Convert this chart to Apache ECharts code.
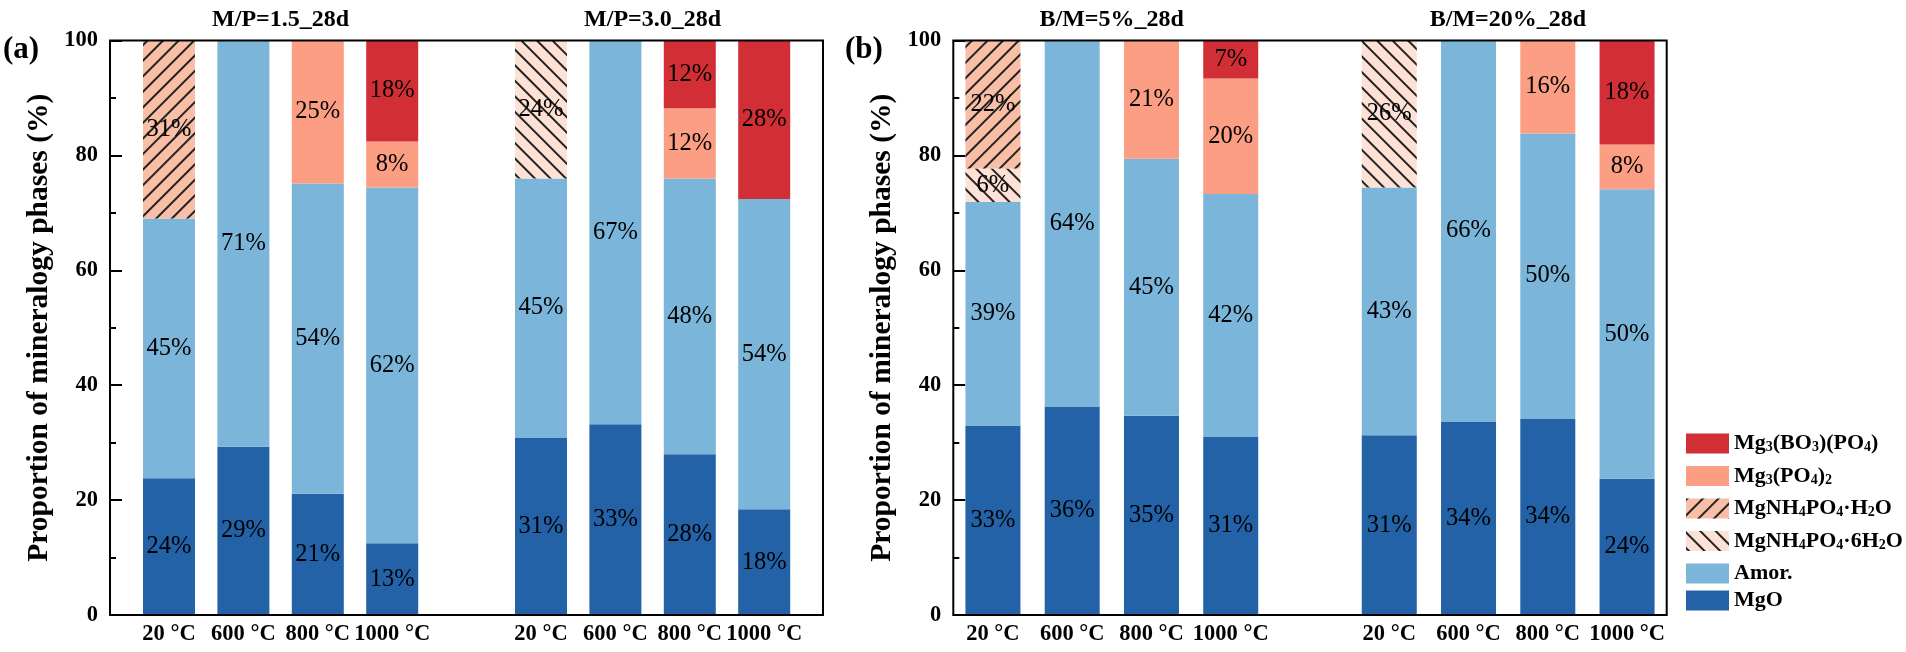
<!DOCTYPE html>
<html>
<head>
<meta charset="utf-8">
<script src="https://cdn.jsdelivr.net/npm/echarts@6/dist/echarts.min.js"></script>
<style>
html,body{margin:0;padding:0;background:#fff;}
#chart{width:1906px;height:652px;}
</style>
</head>
<body>
<div id="chart"></div>
<script>
const categories = ['20 °C', '600 °C', '800 °C', '1000 °C', '', '20 °C', '600 °C', '800 °C', '1000 °C'];
const groupTitles = ['M/P=1.5_28d', 'M/P=3.0_28d', 'B/M=5%_28d', 'B/M=20%_28d'];
const panelLabels = ['(a)', '(b)'];
const yTicks = [0, 20, 40, 60, 80, 100];
const seriesNames = ['MgO', 'Amor.', 'MgNH₄PO₄·6H₂O', 'MgNH₄PO₄·H₂O', 'Mg₃(PO₄)₂', 'Mg₃(BO₃)(PO₄)'];

// Panel (a)
const aMgO  = [23.8, 29.3, 21.1, 12.5, null, 30.9, 33.2, 28.0, 18.4];
const aAmor = [45.2, 70.7, 54.0, 61.9, null, 45.1, 66.8, 48.0, 54.0];
const aMAP6 = [null, null, null, null, null, 24.0, null, null, null];
const aMAP1 = [31.0, null, null, null, null, null, null, null, null];
const aMP   = [null, null, 24.9, 8.0, null, null, null, 12.2, null];
const aMBP  = [null, null, null, 17.6, null, null, null, 11.8, 27.6];

// Panel (b)
const bMgO  = [33.0, 36.3, 34.7, 31.0, null, 31.3, 33.7, 34.2, 23.7];
const bAmor = [38.9, 63.7, 44.7, 42.3, null, 43.1, 66.3, 49.6, 50.4];
const bMAP6 = [5.8, null, null, null, null, 25.6, null, null, null];
const bMAP1 = [22.3, null, null, null, null, null, null, null, null];
const bMP   = [null, null, 20.6, 20.1, null, null, null, 16.2, 7.8];
const bMBP  = [null, null, null, 6.6, null, null, null, null, 18.1];

const FONT = 'Liberation Serif';
const colors = {
  'MgO': '#2362A6',
  'Amor.': '#7BB5D9',
  'MgNH₄PO₄·6H₂O': '#FEE1D5',
  'MgNH₄PO₄·H₂O': '#F9BFA6',
  'Mg₃(PO₄)₂': '#FB9E83',
  'Mg₃(BO₃)(PO₄)': '#D12F35'
};
const decals = {
  'MgNH₄PO₄·H₂O': { symbol: 'rect', symbolSize: 1, dashArrayX: [1, 0], dashArrayY: [1.2, 8.6], rotation: -Math.PI / 4, color: '#222' },
  'MgNH₄PO₄·6H₂O': { symbol: 'rect', symbolSize: 1, dashArrayX: [1, 0], dashArrayY: [1.2, 8.6], rotation: Math.PI / 4, color: '#222' }
};
const legendRich = {
  'Mg₃(BO₃)(PO₄)': '{m|Mg}{s|3}{m|(BO}{s|3}{m|)(PO}{s|4}{m|)}',
  'Mg₃(PO₄)₂': '{m|Mg}{s|3}{m|(PO}{s|4}{m|)}{s|2}',
  'MgNH₄PO₄·H₂O': '{m|MgNH}{s|4}{m|PO}{s|4}{m|·H}{s|2}{m|O}',
  'MgNH₄PO₄·6H₂O': '{m|MgNH}{s|4}{m|PO}{s|4}{m|·6H}{s|2}{m|O}',
  'Amor.': '{m|Amor.}',
  'MgO': '{m|MgO}'
};

const panelA = [aMgO, aAmor, aMAP6, aMAP1, aMP, aMBP];
const panelB = [bMgO, bAmor, bMAP6, bMAP1, bMP, bMBP];

const chart = echarts.init(document.getElementById('chart'), null, { renderer: 'canvas' });

const TOP = 40.5, H = 574.5;
const grids = [
  { left: 110, top: TOP, width: 713, height: H, show: true, borderColor: '#000', borderWidth: 2, backgroundColor: 'transparent', z: 10 },
  { left: 131.8, top: TOP, width: 669.6, height: H },
  { left: 953.3, top: TOP, width: 713.4, height: H, show: true, borderColor: '#000', borderWidth: 2, backgroundColor: 'transparent', z: 10 },
  { left: 953.3, top: TOP, width: 713.4, height: H }
];

function frameY(gi) {
  return {
    gridIndex: gi, type: 'value', min: yTicks[0], max: yTicks[yTicks.length - 1], interval: yTicks[1] - yTicks[0],
    axisLine: { show: false },
    axisTick: { show: true, inside: true, length: 12, lineStyle: { color: '#000', width: 2 } },
    minorTick: { show: true, splitNumber: 2, length: 6, lineStyle: { color: '#000', width: 2 } },
    splitLine: { show: false },
    axisLabel: { fontFamily: FONT, fontSize: 22.5, fontWeight: 'bold', color: '#000', margin: 12 },
    name: 'Proportion of mineralogy phases (%)',
    nameLocation: 'middle', nameRotate: 90, nameGap: 56,
    nameTextStyle: { fontFamily: FONT, fontSize: 29.5, fontWeight: 'bold', color: '#000' }
  };
}
function barX(gi) {
  return {
    gridIndex: gi, type: 'category', data: categories,
    axisLine: { show: false }, axisTick: { show: false },
    axisLabel: { interval: 0, fontFamily: FONT, fontSize: 22.5, fontWeight: 'bold', color: '#000', margin: 8 }
  };
}
const xAxis = [
  { gridIndex: 0, type: 'value', show: false, min: 0, max: 1 },
  barX(1),
  { gridIndex: 2, type: 'value', show: false, min: 0, max: 1 },
  barX(3)
];
const yAxis = [
  frameY(0),
  { gridIndex: 1, type: 'value', min: 0, max: 100, show: false },
  frameY(2),
  { gridIndex: 3, type: 'value', min: 0, max: 100, show: false }
];

const series = [];
function addPanel(arrs, stack, axisIdx, bw) {
  seriesNames.forEach((name, i) => {
    series.push({
      type: 'bar', name: name, data: arrs[i], stack: stack,
      xAxisIndex: axisIdx, yAxisIndex: axisIdx, barWidth: bw,
      itemStyle: Object.assign({ color: colors[name] }, decals[name] ? { decal: decals[name] } : {}),
      label: {
        show: true, position: 'inside', color: '#000', fontFamily: FONT, fontWeight: 'normal', fontSize: 24.5,
        formatter: p => (p.value == null ? '' : Math.round(p.value) + '%')
      },
      emphasis: { disabled: true }
    });
  });
}
addPanel(panelA, 'a', 1, 52);
addPanel(panelB, 'b', 3, 55);

const legendText = {
  fontFamily: FONT, fontSize: 22, fontWeight: 'bold', color: '#000', lineHeight: 22,
  rich: {
    m: { fontFamily: FONT, fontSize: 22, fontWeight: 'bold', color: '#000', lineHeight: 22 },
    s: { fontFamily: FONT, fontSize: 14, fontWeight: 'bold', color: '#000', lineHeight: 4, verticalAlign: 'bottom' }
  }
};
const legends = [
  { data: ['Mg₃(BO₃)(PO₄)', 'Mg₃(PO₄)₂', 'MgNH₄PO₄·H₂O', 'MgNH₄PO₄·6H₂O', 'Amor.'], top: 432.5 },
  { data: ['MgO'], top: 589.5 }
].map(l => ({
  data: l.data, orient: 'vertical', left: 1686, top: l.top, itemWidth: 43, itemHeight: 20, itemGap: 10.5,
  icon: 'rect', selectedMode: false, padding: 0, textStyle: legendText,
  formatter: n => legendRich[n]
}));

const titleCenters = [280.6, 652.6, 1111.7, 1507.9];
const graphic = groupTitles.map((t, i) => ({
  type: 'text', x: titleCenters[i], y: 20, z: 20,
  style: { text: t, fontFamily: FONT, fontSize: 24, fontWeight: 'bold', fill: '#000', textAlign: 'center', textVerticalAlign: 'middle' }
})).concat(panelLabels.map((t, i) => ({
  type: 'text', x: [3, 845][i], y: 50, z: 20,
  style: { text: t, fontFamily: FONT, fontSize: 31, fontWeight: 'bold', fill: '#000', textAlign: 'left', textVerticalAlign: 'middle' }
})));

chart.setOption({
  animation: false,
  backgroundColor: '#fff',
  textStyle: { fontFamily: FONT },
  grid: grids, xAxis: xAxis, yAxis: yAxis, series: series,
  legend: legends, graphic: graphic
});
</script>
</body>
</html>
